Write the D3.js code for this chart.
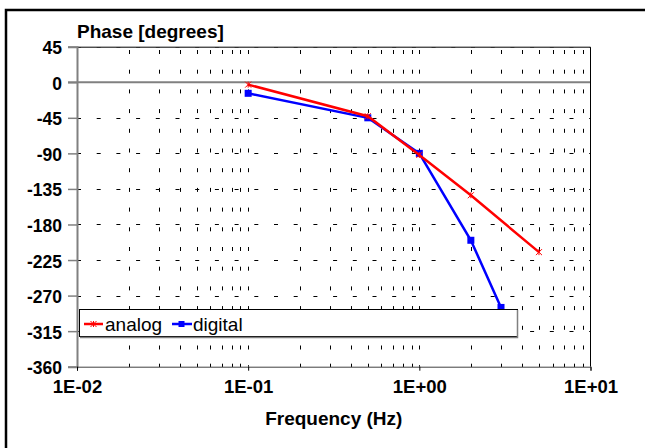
<!DOCTYPE html>
<html lang="en">
<head>
<meta charset="UTF-8" />
<title>Phase [degrees]</title>
<script src="https://d3js.org/d3.v7.min.js"></script>
<style>
body { margin: 0; background: #fff; }
svg { font-family: "Liberation Sans", Arial, sans-serif; }
</style>
</head>
<body>
<script>
// values
var freqAnalog = [0.1, 0.5, 1, 2, 5];
var phaseAnalog = [-3, -43, -92, -143, -215];
var freqDigital = [0.1, 0.5, 1, 2, 3];
var phaseDigital = [-14, -45, -90, -200, -285];
var yTicks = [45, 0, -45, -90, -135, -180, -225, -270, -315, -360];
var xTicks = [0.01, 0.1, 1, 10];
var seriesNames = ["analog", "digital"];

var width = 645, height = 448;
var plot = {left: 77, top: 46.7, right: 590.5, bottom: 366.7};

var svg = d3.select("body").append("svg")
  .attr("width", width)
  .attr("height", height);

// outer frame
svg.append("rect")
  .attr("x", 6).attr("y", 10)
  .attr("width", 760).attr("height", 520)
  .attr("fill", "#fff")
  .attr("stroke", "#000")
  .attr("stroke-width", 2.5);

var x = d3.scaleLog().domain([0.01, 10]).range([plot.left, plot.right]);
var y = d3.scaleLinear().domain([-360, 45]).range([plot.bottom, plot.top]);

// minor log positions
var minor = [];
[0.01, 0.1, 1].forEach(function(dec) {
  for (var k = 1; k <= 9; k++) minor.push(dec * k);
});

var grid = svg.append("g");

grid.selectAll(".vg")
  .data(minor.filter(function(d) { return d > 0.011; }))
  .enter().append("line")
    .attr("x1", function(d) { return Math.round(x(d)) + 0.5; })
    .attr("x2", function(d) { return Math.round(x(d)) + 0.5; })
    .attr("y1", plot.top)
    .attr("y2", plot.bottom)
    .attr("stroke", "#000")
    .attr("stroke-dasharray", "4,15.7")
    .attr("stroke-dashoffset", 16.4);

grid.selectAll(".hg")
  .data(yTicks.filter(function(d) { return d !== 0 && d !== -360; }))
  .enter().append("line")
    .attr("x1", plot.left)
    .attr("x2", plot.right)
    .attr("y1", function(d) { return Math.round(y(d)) + 0.5; })
    .attr("y2", function(d) { return Math.round(y(d)) + 0.5; })
    .attr("stroke", function(d) { return d === 45 ? "#999" : "#000"; })
    .attr("stroke-dasharray", "4,15.7");

// zero line
svg.append("line")
  .attr("x1", plot.left - 9).attr("x2", plot.right)
  .attr("y1", y(0)).attr("y2", y(0))
  .attr("stroke", "#808080")
  .attr("stroke-width", 2);

// plot border top / right
svg.append("path")
  .attr("d", "M" + plot.left + "," + (plot.top + 0.5) + "H" + plot.right + "V" + plot.bottom)
  .attr("fill", "none")
  .attr("stroke", "#000");

var line = d3.line()
  .x(function(d) { return x(d[0]); })
  .y(function(d) { return y(d[1]); });

var digital = d3.zip(freqDigital, phaseDigital);
var analog = d3.zip(freqAnalog, phaseAnalog);

svg.append("path")
  .datum(digital)
  .attr("d", line)
  .attr("fill", "none")
  .attr("stroke", "#0000ff")
  .attr("stroke-width", 2.5);

svg.selectAll(".sq")
  .data(digital)
  .enter().append("rect")
    .attr("x", function(d) { return x(d[0]) - 3.5; })
    .attr("y", function(d) { return y(d[1]) - 3.5; })
    .attr("width", 7).attr("height", 7)
    .attr("fill", "#0000ff");

svg.append("path")
  .datum(analog)
  .attr("d", line)
  .attr("fill", "none")
  .attr("stroke", "#ff0000")
  .attr("stroke-width", 2.5);

function star(g, cx, cy, r) {
  g.append("path")
    .attr("d", "M" + (cx - r) + "," + (cy - r) + "L" + (cx + r) + "," + (cy + r) +
               "M" + (cx - r) + "," + (cy + r) + "L" + (cx + r) + "," + (cy - r) +
               "M" + cx + "," + (cy - r) + "V" + (cy + r))
    .attr("stroke", "#ff0000")
    .attr("stroke-width", 1)
    .attr("fill", "none");
}
analog.forEach(function(d) { star(svg, x(d[0]), y(d[1]), 3); });

// legend
var lg = svg.append("g");
lg.append("rect")
  .attr("x", 79.5).attr("y", 309.5)
  .attr("width", 438).attr("height", 27)
  .attr("fill", "#fff")
  .attr("stroke", "#000");
lg.append("path")
  .attr("d", "M517.5,310V337.5H80")
  .attr("stroke", "#808080").attr("stroke-width", 1.5).attr("fill", "none");

lg.append("line").attr("x1", 84).attr("x2", 103).attr("y1", 324).attr("y2", 324)
  .attr("stroke", "#ff0000").attr("stroke-width", 2.5);
star(lg, 93.5, 324, 3);
lg.append("line").attr("x1", 172).attr("x2", 192).attr("y1", 324).attr("y2", 324)
  .attr("stroke", "#0000ff").attr("stroke-width", 2.5);
lg.append("rect").attr("x", 178.5).attr("y", 321).attr("width", 6).attr("height", 6)
  .attr("fill", "#0000ff");

lg.selectAll("text")
  .data(seriesNames)
  .enter().append("text")
    .attr("x", function(d, i) { return i === 0 ? 105 : 193; })
    .attr("y", 330.5)
    .attr("font-size", "19px")
    .text(function(d) { return d; });

// y axis
var yAxis = svg.append("g")
  .attr("transform", "translate(" + plot.left + ",0)")
  .call(d3.axisLeft(y).tickValues(yTicks).tickSize(9).tickPadding(6)
    .tickFormat(function(d) { return String(d); }));
yAxis.select(".domain").attr("stroke", "#808080").attr("stroke-width", 2);
yAxis.selectAll(".tick line").attr("stroke", "#808080").attr("stroke-width", 1.5);
yAxis.selectAll("text")
  .attr("font-size", "17.5px")
  .attr("font-weight", "bold")
  .attr("fill", "#000")
  .attr("dy", "0.4em");

// x axis
function expFmt(d) {
  var e = Math.round(Math.log10(d));
  return "1E" + (e < 0 ? "-" : "+") + (Math.abs(e) < 10 ? "0" : "") + Math.abs(e);
}
var xAxis = svg.append("g")
  .attr("transform", "translate(0," + plot.bottom + ")")
  .call(d3.axisBottom(x).tickValues(xTicks).tickSize(4).tickPadding(9.3)
    .tickFormat(expFmt));
xAxis.select(".domain").attr("stroke", "#404040");
xAxis.selectAll("text")
  .attr("font-size", "18.5px")
  .attr("font-weight", "bold")
  .attr("fill", "#000");

svg.append("g").selectAll("line")
  .data(minor.filter(function(d) { return d > 0.011 && [0.1, 1].indexOf(d) < 0; }))
  .enter().append("line")
    .attr("x1", function(d) { return Math.round(x(d)) + 0.5; })
    .attr("x2", function(d) { return Math.round(x(d)) + 0.5; })
    .attr("y1", plot.bottom - 3)
    .attr("y2", plot.bottom)
    .attr("stroke", "#000");

// titles
svg.append("text")
  .attr("x", plot.left)
  .attr("y", 38.3)
  .attr("font-size", "19px")
  .attr("font-weight", "bold")
  .text("Phase [degrees]");

svg.append("text")
  .attr("x", (plot.left + plot.right) / 2)
  .attr("y", 425)
  .attr("text-anchor", "middle")
  .attr("font-size", "19px")
  .attr("font-weight", "bold")
  .text("Frequency (Hz)");
</script>
</body>
</html>
